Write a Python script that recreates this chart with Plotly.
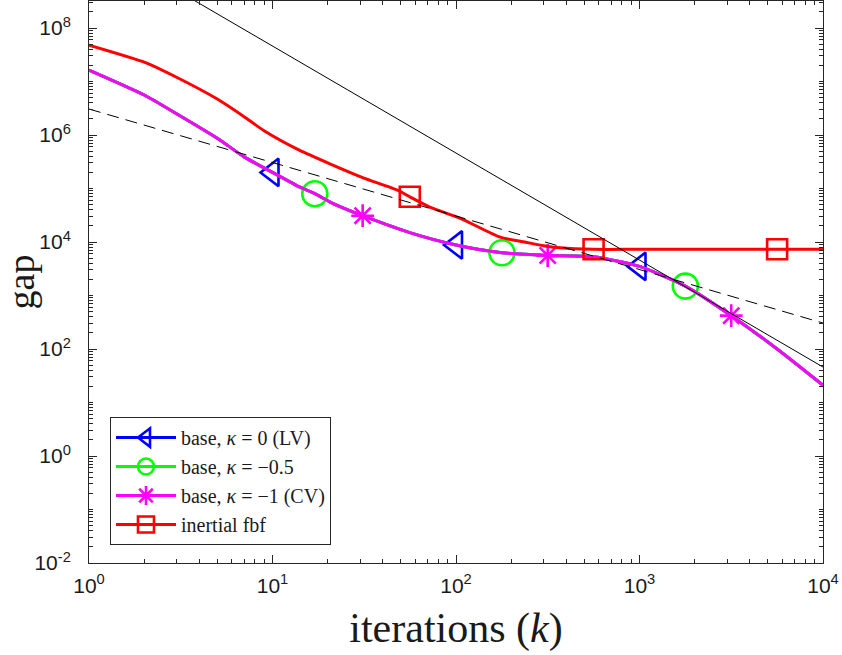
import plotly.graph_objects as go

# ---------------- data ----------------
base_k = [1, 2, 3, 5, 7, 10, 14, 17, 21, 31, 56, 100, 178, 316, 562, 1000, 1778, 3162, 5623, 10000]
base_gap = [1.64e7, 5.6e6, 2.5e6, 8.7e5, 3.9e5, 2.0e5, 1.07e5, 8.0e4, 5.4e4, 3.1e4, 1.5e4,
            8.8e3, 6.3e3, 5.6e3, 5.3e3, 3.5e3, 1.5e3, 4.2e2, 1.0e2, 2.1e1]

red_k = [1, 2, 3, 5, 7, 9, 14, 21, 31, 48, 56, 72, 105, 174, 237, 300, 369, 562, 1000, 3162, 5623, 10000]
red_gap = [4.8e7, 2.3e7, 1.2e7, 4.7e6, 2.2e6, 1.2e6, 5.2e5, 2.8e5, 1.6e5, 9.3e4, 7.0e4, 4.5e4,
           2.8e4, 1.23e4, 1.0e4, 8.5e3, 7.8e3, 7.3e3, 7.3e3, 7.3e3, 7.3e3, 7.3e3]

ref1_k = [1, 10000]          # O(1/k) reference (dashed)
ref1_gap = [3.06e6, 306]
ref2_k = [1, 10000]          # O(1/k^2) reference (solid)
ref2_gap = [4.6e9, 46]

tri_k = [10, 100, 1000]
circ_k = [17, 178, 1778]
star_k = [31, 316, 3162]
sq_k = [56, 562, 5623]

names = ["base, <i>κ</i> = 0 (LV)", "base, <i>κ</i> = −0.5",
         "base, <i>κ</i> = −1 (CV)", "inertial fbf"]
x_tick_vals = [1, 10, 100, 1000, 10000]
x_tick_labels = ["10<sup>0</sup>", "10<sup>1</sup>", "10<sup>2</sup>", "10<sup>3</sup>", "10<sup>4</sup>"]
y_tick_vals = [1e-2, 1, 1e2, 1e4, 1e6, 1e8]
y_tick_labels = ["10<sup>-2</sup>", "10<sup>0</sup>", "10<sup>2</sup>", "10<sup>4</sup>",
                 "10<sup>6</sup>", "10<sup>8</sup>"]

# ---------------- figure ----------------
BLUE, GREEN, MAGENTA, RED = "#0000ff", "#00ff00", "#ff00ff", "#ff0000"
AX = "#262626"
LW = 3


def pick(ks, xs, ys):
    return [ys[xs.index(k)] for k in ks]


fig = go.Figure()

# invisible trace carrying the minor-tick overlay axes (drawn first, underneath)
fig.add_trace(go.Scatter(x=[10], y=[10], xaxis="x2", yaxis="y2", mode="markers",
                         marker=dict(size=1, opacity=0), showlegend=False, hoverinfo="skip"))

series = [
    (base_k, base_gap, tri_k, BLUE, "triangle-left-open", 24, names[0]),
    (base_k, base_gap, circ_k, GREEN, "circle-open", 25, names[1]),
    (base_k, base_gap, star_k, MAGENTA, "asterisk-open", 19, names[2]),
    (red_k, red_gap, sq_k, RED, "square-open", 20, names[3]),
]

for i, (xs, ys, mk, col, sym, sz, nm) in enumerate(series):
    fig.add_trace(go.Scatter(x=xs, y=ys, mode="lines",
                             line=dict(color=col, width=LW, shape="spline", smoothing=0.6),
                             showlegend=False, hoverinfo="skip"))
    fig.add_trace(go.Scatter(x=mk, y=pick(mk, xs, ys), mode="markers",
                             marker=dict(symbol=sym, size=sz, color=col,
                                         line=dict(color=col, width=2.6)),
                             showlegend=False, hoverinfo="skip"))
    fig.add_trace(go.Scatter(x=[None], y=[None], mode="lines+markers", name=nm,
                             line=dict(color=col, width=LW),
                             marker=dict(symbol=sym, size=sz, color=col,
                                         line=dict(color=col, width=2.6)),
                             legendrank=i + 1))

fig.add_trace(go.Scatter(x=ref1_k, y=ref1_gap, mode="lines",
                         line=dict(color="black", width=1, dash="12px,7px"),
                         showlegend=False, hoverinfo="skip"))
fig.add_trace(go.Scatter(x=ref2_k, y=ref2_gap, mode="lines",
                         line=dict(color="black", width=1),
                         showlegend=False, hoverinfo="skip"))

XR = [0, 4]
YR = [-2, 8.505]
x_minor = [m * 10 ** e for e in range(0, 4) for m in range(2, 10)]
y_minor = [m * 10.0 ** e for e in range(-2, 9) for m in range(1, 10)
           if not (m == 1 and e % 2 == 0)]

tickfont = dict(family="Liberation Sans, Arial, sans-serif", size=21, color="#1a1a1a")
common = dict(type="log", showgrid=False, zeroline=False, automargin=False,
              ticks="inside", tickwidth=1, tickcolor=AX)

fig.update_layout(
    width=842, height=655,
    margin=dict(l=89, r=19, t=1, b=92, autoexpand=False),
    paper_bgcolor="white", plot_bgcolor="white",
    xaxis=dict(**common, range=XR, showline=True, mirror="ticks", linecolor=AX, linewidth=1,
               ticklen=8, tickvals=x_tick_vals, ticktext=x_tick_labels, tickfont=tickfont,
               ticklabelstandoff=4,
               title=dict(text="iterations (<i>k</i>)", standoff=16,
                          font=dict(family="Liberation Serif, serif", size=42, color="#1a1a1a"))),
    yaxis=dict(**common, range=YR, showline=True, mirror="ticks", linecolor=AX, linewidth=1,
               ticklen=8, tickvals=y_tick_vals, ticktext=y_tick_labels, tickfont=tickfont,
               ticklabelstandoff=13,
               title=dict(text="gap", standoff=18,
                          font=dict(family="Liberation Serif, serif", size=38, color="#1a1a1a"))),
    xaxis2=dict(**common, range=XR, overlaying="x", anchor="y", side="bottom",
                showline=False, mirror="ticks", ticklen=4, tickvals=x_minor,
                showticklabels=False, tickmode="array"),
    yaxis2=dict(**common, range=YR, overlaying="y", anchor="x", side="left",
                showline=False, mirror="ticks", ticklen=4, tickvals=y_minor,
                showticklabels=False, tickmode="array"),
    legend=dict(x=0.0286, y=0.032, xanchor="left", yanchor="bottom",
                bgcolor="white", bordercolor=AX, borderwidth=1,
                font=dict(family="Liberation Serif, serif", size=20, color="#1a1a1a"),
                tracegroupgap=0, itemwidth=60),
)

fig.write_html("out.html")
